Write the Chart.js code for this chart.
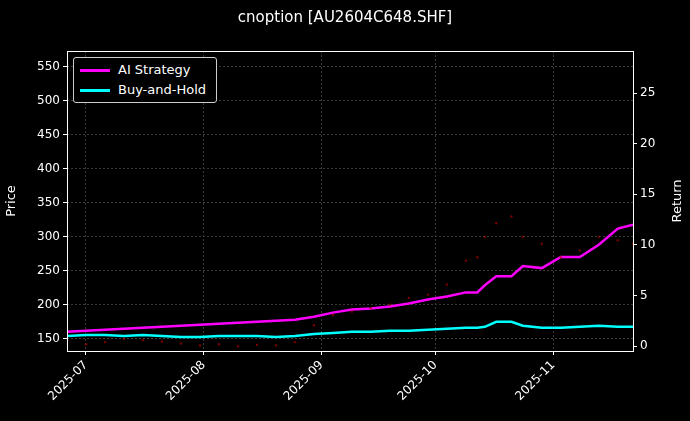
<!DOCTYPE html>
<html><head><meta charset="utf-8">
<script src="https://cdn.jsdelivr.net/npm/chart.js@4"></script>
<style>
body{margin:0;background:#000;}
#wrap{position:relative;width:690px;height:421px;}
#legend{position:absolute;left:73px;top:57px;width:142px;height:44px;border:1px solid #ccc;border-radius:3px;background:#000;font:13px "DejaVu Sans",sans-serif;color:#fff;}
#legend div{position:absolute;left:6px;height:18px;line-height:18px;}
#legend span{display:inline-block;width:30px;height:3px;vertical-align:middle;margin-right:8px;}
</style></head><body>
<div id="wrap"><canvas id="c" width="690" height="421"></canvas>
<div id="legend">
<div style="top:3px"><span style="background:#ff00ff"></span>AI Strategy</div>
<div style="top:23px"><span style="background:#00ffff"></span>Buy-and-Hold</div>
</div></div>
<script>
// day index, 0 = 2025-06-26
const days = [0,5,10,15,20,25,30,35,40,45,50,55,60,65,70,75,80,85,90,95,100,105,108,110,113,117,120,125,130,135,140,145,149];
const aiReturn = [1.4,1.5,1.6,1.7,1.8,1.9,2.0,2.1,2.2,2.3,2.4,2.5,2.6,2.9,3.3,3.6,3.7,3.9,4.2,4.6,4.9,5.3,5.3,6.0,6.9,6.9,7.9,7.7,8.8,8.8,10.0,11.6,12.0];
const holdReturn = [1.0,1.1,1.1,1.0,1.1,1.0,0.9,0.9,1.0,1.0,1.0,0.9,1.0,1.2,1.3,1.4,1.4,1.5,1.5,1.6,1.7,1.8,1.8,1.9,2.4,2.4,2.0,1.8,1.8,1.9,2.0,1.9,1.9];
const price = [140,142,145,150,148,146,143,140,142,139,141,140,145,170,185,190,195,200,210,215,230,265,270,300,320,330,300,290,270,280,300,295,290];
const monthTicks = [5,36,67,97,128];
const monthLabels = ['2025-07','2025-08','2025-09','2025-10','2025-11'];

const pts = (ys) => days.map((d, i) => ({ x: d, y: ys[i] }));
Chart.defaults.font.family = '"DejaVu Sans", sans-serif';
Chart.defaults.color = '#fff';

// frame + right axis label (reads bottom-to-top like the source)
const frame = {
  id: 'frame',
  afterDraw(chart) {
    const { ctx, chartArea: a } = chart;
    ctx.save(); ctx.strokeStyle = '#fff'; ctx.lineWidth = 1;
    ctx.strokeRect(a.left + 0.5, a.top + 0.5, a.right - a.left, a.bottom - a.top);
    ctx.translate(678, (a.top + a.bottom) / 2);
    ctx.rotate(-Math.PI / 2);
    ctx.fillStyle = '#fff'; ctx.font = '13px "DejaVu Sans", sans-serif';
    ctx.textAlign = 'center'; ctx.textBaseline = 'middle';
    ctx.fillText('Return', 0, 0);
    ctx.restore();
  }
};

new Chart(document.getElementById('c'), {
  type: 'line',
  data: {
    datasets: [
      { label: 'Price', data: pts(price), yAxisID: 'y', showLine: false, pointRadius: 1.2, pointBackgroundColor: 'rgba(170,0,0,0.7)', pointBorderWidth: 0 },
      { label: 'AI Strategy', data: pts(aiReturn), yAxisID: 'y1', borderColor: '#ff00ff', borderWidth: 2.5, pointRadius: 0 },
      { label: 'Buy-and-Hold', data: pts(holdReturn), yAxisID: 'y1', borderColor: '#00ffff', borderWidth: 2.5, pointRadius: 0 }
    ]
  },
  options: {
    responsive: false, animation: false,
    plugins: {
      legend: { display: false },
      tooltip: { enabled: false },
      title: { display: true, text: 'cnoption [AU2604C648.SHF]', color: '#fff', font: { size: 15, weight: 'normal' }, padding: { top: 9, bottom: 24 } }
    },
    scales: {
      x: {
        type: 'linear', min: 0, max: 149,
        afterBuildTicks: (s) => { s.ticks = monthTicks.map((v) => ({ value: v })); },
        ticks: { callback: (v) => monthLabels[monthTicks.indexOf(v)], maxRotation: 45, minRotation: 45, font: { size: 12 }, color: '#fff' },
        grid: { color: '#3a3a3a', tickColor: '#fff', tickLength: 4 },
        border: { display: false, dash: [2, 2] },
        afterFit: (s) => { s.height = 70; }
      },
      y: {
        position: 'left', min: 132, max: 573.5,
        afterBuildTicks: (s) => { s.ticks = [150,200,250,300,350,400,450,500,550].map((v) => ({ value: v })); },
        ticks: { font: { size: 12 }, color: '#fff' },
        grid: { color: '#3a3a3a', tickColor: '#fff', tickLength: 4 },
        border: { display: false, dash: [2, 2] },
        title: { display: true, text: 'Price', font: { size: 13 }, color: '#fff' },
        afterFit: (s) => { s.width = 67; }
      },
      y1: {
        position: 'right', min: -0.49, max: 29.15,
        afterBuildTicks: (s) => { s.ticks = [0,5,10,15,20,25].map((v) => ({ value: v })); },
        ticks: { font: { size: 12 }, color: '#fff' },
        grid: { drawOnChartArea: false, tickColor: '#fff', tickLength: 4 },
        border: { display: false },
        afterFit: (s) => { s.width = 57; }
      }
    }
  },
  plugins: [frame]
});
</script></body></html>
